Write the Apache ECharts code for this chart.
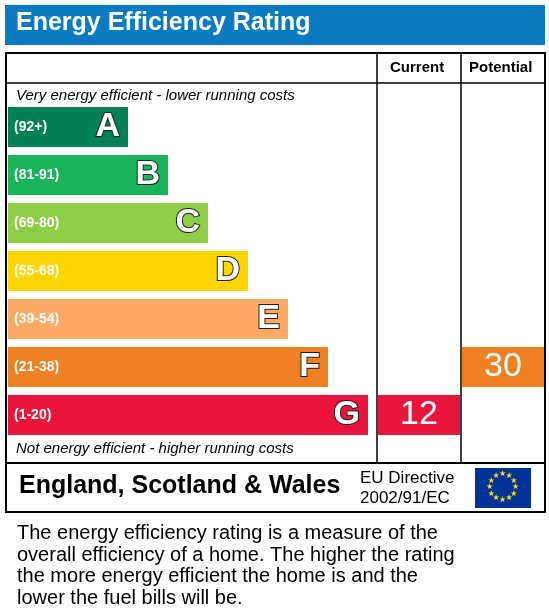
<!DOCTYPE html>
<html>
<head>
<meta charset="utf-8">
<title>Energy Efficiency Rating</title>
<style>
  body { margin: 0; padding: 0; background: #fff; }
  #chart { width: 549px; height: 613px; }
</style>
</head>
<body>
<div id="chart"></div>
<script src="https://cdn.jsdelivr.net/npm/echarts@6/dist/echarts.min.js"></script>
<script>
var bands = ['A', 'B', 'C', 'D', 'E', 'F', 'G'];
var ranges = ['(92+)', '(81-91)', '(69-80)', '(55-68)', '(39-54)', '(21-38)', '(1-20)'];
var bandLength = [120, 160, 200, 240, 280, 320, 360];
var bandColors = ['#008054', '#19b459', '#8dce46', '#ffd500', '#fcaa65', '#ef8023', '#e9153b'];
var currentRating = 12, currentBand = 'G';
var potentialRating = 30, potentialBand = 'F';

var chart = echarts.init(document.getElementById('chart'));
var font = 'Liberation Sans, Arial, sans-serif';

function markerData(band, rating) {
  return bands.map(function (b, i) {
    return b === band ? { value: 1, rating: rating, itemStyle: { color: bandColors[i] } } : '-';
  });
}

// EU flag stars
var stars = [];
for (var k = 0; k < 12; k++) {
  var a = k / 12 * Math.PI * 2;
  stars.push({
    type: 'text', left: 503 + Math.cos(a) * 13 - 4, top: 488 + Math.sin(a) * 13 - 5,
    style: { text: '★', fill: '#ffdd00', font: '8px DejaVu Sans' }
  });
}

var yAx = function (gi) {
  return { type: 'category', gridIndex: gi, data: bands, inverse: true, show: false };
};
var xAx = function (gi, max) {
  return { type: 'value', gridIndex: gi, min: 0, max: max, show: false };
};

chart.setOption({
  animation: false,
  grid: [
    { left: 8, top: 103, width: 360, height: 336 },
    { left: 378, top: 103, width: 82, height: 336 },
    { left: 462, top: 103, width: 82, height: 336 }
  ],
  xAxis: [xAx(0, 360), xAx(1, 1), xAx(2, 1)],
  yAxis: [yAx(0), yAx(1), yAx(2)],
  series: [
    {
      type: 'bar', xAxisIndex: 0, yAxisIndex: 0, barWidth: 40,
      data: bandLength.map(function (v, i) { return { value: v, itemStyle: { color: bandColors[i] } }; }),
      label: {
        show: true, position: 'insideLeft', distance: 6,
        formatter: function (p) { return ranges[p.dataIndex]; },
        color: '#fff', fontFamily: font, fontWeight: 'bold', fontSize: 14
      },
      z: 2
    },
    {
      type: 'bar', xAxisIndex: 0, yAxisIndex: 0, barWidth: 40, barGap: '-100%',
      data: bandLength.map(function (v) { return { value: v, itemStyle: { color: 'transparent' } }; }),
      label: {
        show: true, position: 'insideRight', distance: 8,
        formatter: function (p) { return bands[p.dataIndex]; },
        color: '#fff', fontFamily: font, fontWeight: 'bold', fontSize: 34,
        textBorderColor: '#222', textBorderWidth: 2
      },
      z: 3
    },
    {
      type: 'bar', xAxisIndex: 1, yAxisIndex: 1, barWidth: 40,
      data: markerData(currentBand, currentRating),
      label: { show: true, position: 'inside', formatter: function (p) { return p.data.rating; },
        color: '#fff', fontFamily: font, fontSize: 34 }
    },
    {
      type: 'bar', xAxisIndex: 2, yAxisIndex: 2, barWidth: 40,
      data: markerData(potentialBand, potentialRating),
      label: { show: true, position: 'inside', formatter: function (p) { return p.data.rating; },
        color: '#fff', fontFamily: font, fontSize: 34 }
    }
  ],
  graphic: [
    { type: 'rect', shape: { x: 5, y: 5, width: 540, height: 40 }, style: { fill: '#0a7bc1' } },
    { type: 'text', left: 16, top: 11, style: { text: 'Energy Efficiency Rating', fill: '#fff',
      font: 'bold 25px ' + font } },
    { type: 'rect', shape: { x: 6, y: 53, width: 539, height: 459 }, style: { fill: 'none', stroke: '#000', lineWidth: 2 } },
    { type: 'line', shape: { x1: 6, y1: 83, x2: 545, y2: 83 }, style: { stroke: '#000', lineWidth: 1.5 } },
    { type: 'line', shape: { x1: 377, y1: 53, x2: 377, y2: 463 }, style: { stroke: '#000', lineWidth: 1.5 } },
    { type: 'line', shape: { x1: 461, y1: 53, x2: 461, y2: 463 }, style: { stroke: '#000', lineWidth: 1.5 } },
    { type: 'line', shape: { x1: 6, y1: 463, x2: 545, y2: 463 }, style: { stroke: '#000', lineWidth: 2 } },
    { type: 'text', left: 390, top: 60, style: { text: 'Current', fill: '#000', font: 'bold 15px ' + font } },
    { type: 'text', left: 469, top: 60, style: { text: 'Potential', fill: '#000', font: 'bold 15px ' + font } },
    { type: 'text', left: 16, top: 88, style: { text: 'Very energy efficient - lower running costs', fill: '#000',
      font: 'italic 15px ' + font } },
    { type: 'text', left: 16, top: 441, style: { text: 'Not energy efficient - higher running costs', fill: '#000',
      font: 'italic 15px ' + font } },
    { type: 'text', left: 19, top: 474, style: { text: 'England, Scotland & Wales', fill: '#000',
      font: 'bold 25px ' + font } },
    { type: 'text', left: 360, top: 468, style: { text: 'EU Directive\n2002/91/EC', fill: '#000',
      font: '17px ' + font, lineHeight: 20 } },
    { type: 'rect', shape: { x: 475, y: 468, width: 56, height: 40 }, style: { fill: '#003399' } }
  ].concat(stars).concat([
    { type: 'text', left: 17, top: 523, style: {
      text: 'The energy efficiency rating is a measure of the\noverall efficiency of a home. The higher the rating\nthe more energy efficient the home is and the\nlower the fuel bills will be.',
      fill: '#000', font: '20px ' + font, lineHeight: 21.5 } }
  ])
});
</script>
</body>
</html>
